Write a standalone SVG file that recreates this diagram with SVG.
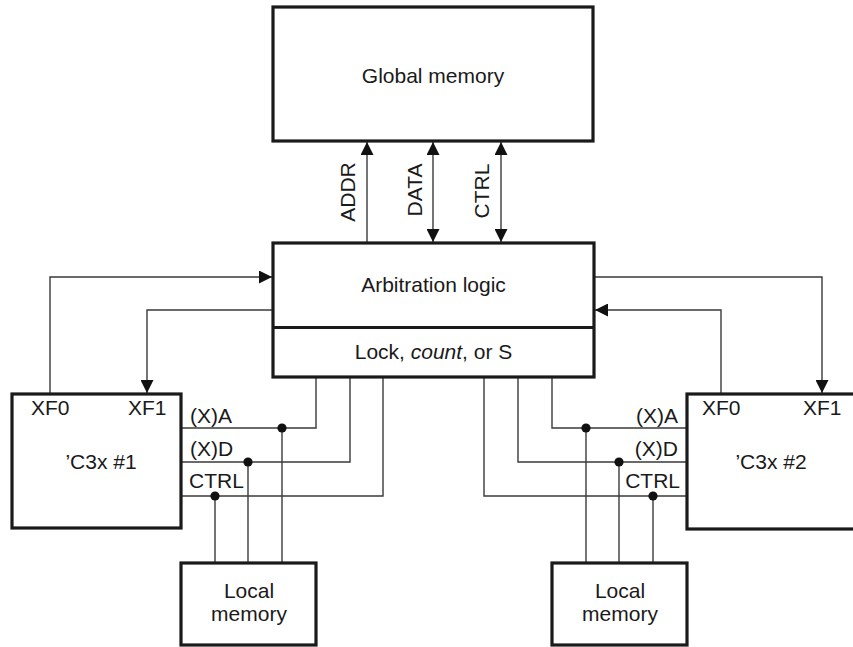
<svg xmlns="http://www.w3.org/2000/svg" width="853" height="647" viewBox="0 0 853 647">
<style>
.box{fill:#fff;stroke:#1a1a1a;stroke-width:3.2}
.ln{fill:none;stroke:#3a3a3a;stroke-width:1.4}
.t{font-family:"Liberation Sans",Arial,sans-serif;font-size:21px;fill:#1a1a1a}
.m{text-anchor:middle}
.e{text-anchor:end}
.dot{fill:#111}
</style>
<defs>
<marker id="arr" viewBox="0 0 10 10" refX="10" refY="5" markerWidth="14" markerHeight="13" markerUnits="userSpaceOnUse" orient="auto-start-reverse">
<path d="M0,0 L10,5 L0,10 z" fill="#111"/>
</marker>
</defs>
<rect width="853" height="647" fill="#fff"/>

<g id="connectors">
<line class="ln" x1="367" y1="243" x2="367" y2="142" marker-end="url(#arr)"/>
<line class="ln" x1="433" y1="242" x2="433" y2="142" marker-start="url(#arr)" marker-end="url(#arr)"/>
<line class="ln" x1="501" y1="242" x2="501" y2="142" marker-start="url(#arr)" marker-end="url(#arr)"/>
<polyline class="ln" points="50,393 50,277 272,277" marker-end="url(#arr)"/>
<polyline class="ln" points="273,310 147,310 147,393" marker-end="url(#arr)"/>
<polyline class="ln" points="721,393 721,310 595,310" marker-end="url(#arr)"/>
<polyline class="ln" points="594,277 822,277 822,393" marker-end="url(#arr)"/>
<polyline class="ln" points="316,377 316,428 181,428"/>
<polyline class="ln" points="350,377 350,462 181,462"/>
<polyline class="ln" points="383,377 383,496 181,496"/>
<line class="ln" x1="282" y1="428" x2="282" y2="563"/>
<line class="ln" x1="248" y1="462" x2="248" y2="563"/>
<line class="ln" x1="215" y1="496" x2="215" y2="563"/>
<circle class="dot" cx="282" cy="428" r="4.6"/>
<circle class="dot" cx="248" cy="462" r="4.6"/>
<circle class="dot" cx="215" cy="496" r="4.6"/>
<polyline class="ln" points="552,377 552,428 687,428"/>
<polyline class="ln" points="518,377 518,462 687,462"/>
<polyline class="ln" points="484,377 484,496 687,496"/>
<line class="ln" x1="586" y1="428" x2="586" y2="563"/>
<line class="ln" x1="619" y1="462" x2="619" y2="563"/>
<line class="ln" x1="653" y1="496" x2="653" y2="563"/>
<circle class="dot" cx="586" cy="428" r="4.6"/>
<circle class="dot" cx="619" cy="462" r="4.6"/>
<circle class="dot" cx="653" cy="496" r="4.6"/>
<text class="t m" transform="translate(355,192) rotate(-90)">ADDR</text>
<text class="t m" transform="translate(422,190) rotate(-90)">DATA</text>
<text class="t m" transform="translate(489,191) rotate(-90)">CTRL</text>
<text class="t" x="190" y="423">(X)A</text>
<text class="t" x="190" y="456">(X)D</text>
<text class="t" x="189" y="488">CTRL</text>
<text class="t e" x="678" y="423">(X)A</text>
<text class="t e" x="678" y="456">(X)D</text>
<text class="t e" x="680" y="488">CTRL</text>
</g>

<g id="global-memory">
<rect class="box" x="273" y="7" width="320" height="134"/>
<text class="t m" x="433" y="83">Global memory</text>
</g>

<g id="arbitration">
<rect class="box" x="273" y="243" width="321" height="134"/>
<line x1="273" y1="327.5" x2="594" y2="327.5" stroke="#1a1a1a" stroke-width="3.2"/>
<text class="t m" x="433.5" y="292">Arbitration logic</text>
<text class="t m" x="433.5" y="359">Lock, <tspan font-style="italic">count</tspan>, or S</text>
</g>

<g id="c3x1">
<rect class="box" x="12" y="394" width="169" height="134"/>
<text class="t" x="31" y="415">XF0</text>
<text class="t" x="128" y="415">XF1</text>
<text class="t m" x="101" y="469">’C3x #1</text>
</g>

<g id="c3x2">
<rect class="box" x="687" y="394" width="180" height="135"/>
<text class="t" x="702" y="415">XF0</text>
<text class="t" x="803" y="415">XF1</text>
<text class="t m" x="771" y="469">’C3x #2</text>
</g>

<g id="local1">
<rect class="box" x="181" y="563" width="135" height="82"/>
<text class="t m" x="249" y="598">Local</text>
<text class="t m" x="249" y="621">memory</text>
</g>

<g id="local2">
<rect class="box" x="552" y="563" width="135" height="82"/>
<text class="t m" x="620" y="598">Local</text>
<text class="t m" x="620" y="621">memory</text>
</g>
</svg>
